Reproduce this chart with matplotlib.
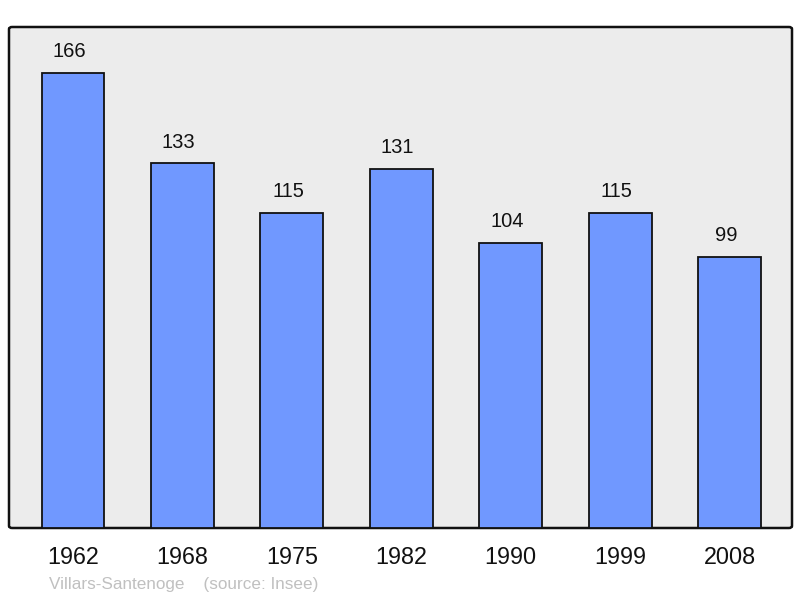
import matplotlib
matplotlib.use("Agg")
import matplotlib.pyplot as plt
from matplotlib.patches import FancyBboxPatch

years = ["1962", "1968", "1975", "1982", "1990", "1999", "2008"]
population = [166, 133, 115, 131, 104, 115, 99]

plt.rcParams['font.family'] = ['Liberation Sans', 'DejaVu Sans']

fig = plt.figure(figsize=(8, 5.98), dpi=100)
ax = fig.add_axes([9/800, 70/598, 783/800, 501/598])
ax.set_facecolor('none')
ax.set_xlim(-0.585, 6.57)
ax.set_ylim(0, 182.8)

bg = FancyBboxPatch((0, 0), 1, 1, boxstyle="round,pad=0,rounding_size=0.004",
                    transform=ax.transAxes, facecolor='#ececec', edgecolor='#111111',
                    linewidth=1.8, zorder=0, clip_on=False)
ax.add_patch(bg)

x = list(range(len(years)))
bars = ax.bar(x, population, width=0.575, color='#7098ff', edgecolor='#111111',
              linewidth=1.3, zorder=2)
for xi, v in zip(x, population):
    ax.text(xi - 0.035, v + 4.3, str(v), ha='center', va='bottom', fontsize=14.5, color='#111111')

for s in ax.spines.values():
    s.set_visible(False)
ax.set_yticks([])
ax.set_xticks(x)
ax.set_xticklabels(years, fontsize=16.8, color='#111111')
ax.tick_params(axis='x', length=0, pad=13)

fig.text(49/800, 1 - 585/598, "Villars-Santenoge    (source: Insee)", fontsize=12.3,
         color='#c0c0c0', ha='left', va='center')

fig.savefig("out.png", dpi=100)
